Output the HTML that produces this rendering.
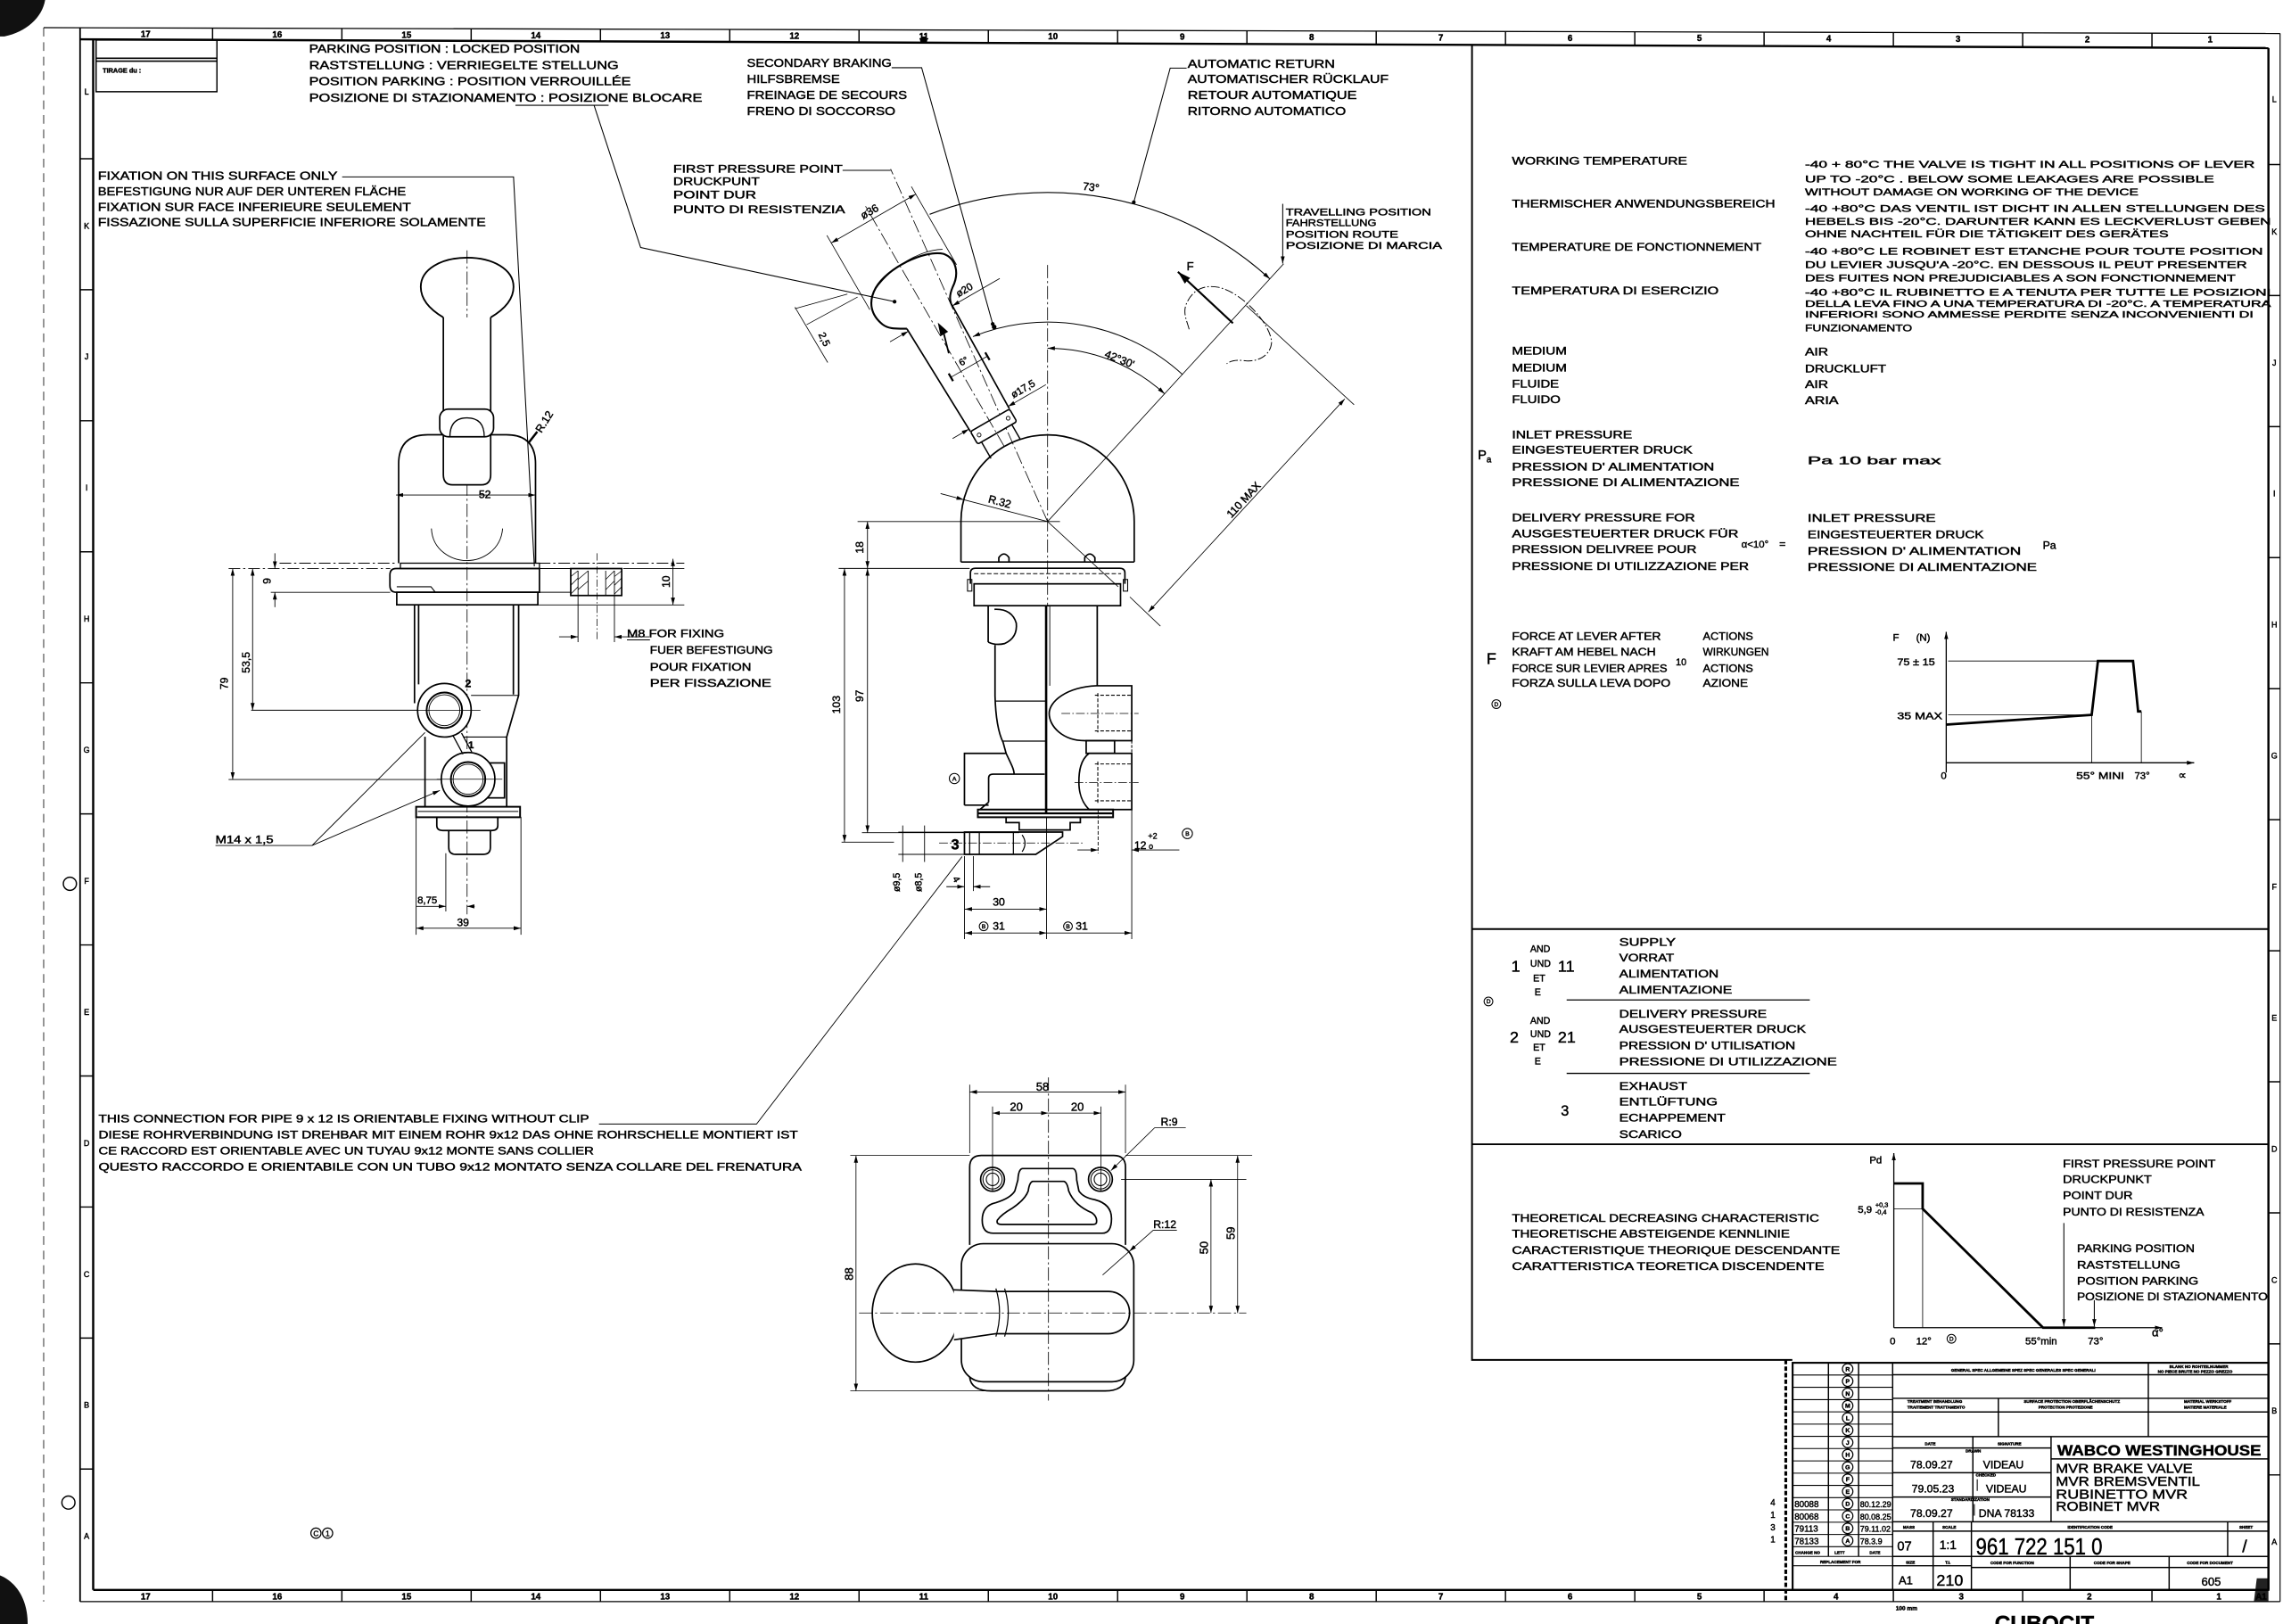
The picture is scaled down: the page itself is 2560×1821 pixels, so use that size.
<!DOCTYPE html>
<html><head><meta charset="utf-8"><style>
html,body{margin:0;padding:0;background:#fff;}
svg{display:block}
text{font-family:"Liberation Sans",Arial,sans-serif;fill:#000;stroke:#000;stroke-width:0.28px}
</style></head><body>
<svg xmlns="http://www.w3.org/2000/svg" width="2560" height="1821" viewBox="0 0 1568 1115.4" preserveAspectRatio="none">
<defs>
<marker id="a" viewBox="0 0 10 10" refX="10" refY="5" markerUnits="userSpaceOnUse" markerWidth="5" markerHeight="5" orient="auto-start-reverse"><path d="M0,2.2 L10,5 L0,7.8 Z" fill="#000" stroke="none"/></marker>
<marker id="b" viewBox="0 0 10 10" refX="10" refY="5" markerUnits="userSpaceOnUse" markerWidth="9" markerHeight="9" orient="auto-start-reverse"><path d="M0,2 L10,5 L0,8 Z" fill="#000" stroke="none"/></marker>
</defs>
<rect width="1568" height="1115.4" fill="#fff"/>

<!-- scan blobs -->
<path d="M0,0 L31,0 C29,12 18,22 3,25 L0,25 Z" fill="#111"/>
<path d="M0,1082 C10,1086 19,1097 19,1115.4 L0,1115.4 Z" fill="#111"/>
<path d="M1550,1084 L1558,1084 L1558,1100 L1548,1100 Z" fill="#222"/>

<!-- FRAME -->
<g fill="none" stroke="#000">
<path d="M30,19 L1566,23" stroke-width="0.8"/>
<path d="M55,27 L1558,33" stroke-width="1.5"/>
<path d="M55,19 L55,1100" stroke-width="1.1"/>
<path d="M64,27 L64,1092" stroke-width="1.5"/>
<path d="M30,19 L30,1100" stroke-width="0.5" stroke-dasharray="6 4"/>
<path d="M1558,33 L1558,1092" stroke-width="1.5"/>
<path d="M1566,23 L1566,1100" stroke-width="0.7"/>
<path d="M64,1092 L1558,1092" stroke-width="1.5"/>
<path d="M55,1100 L1566,1100" stroke-width="0.8"/>
<g stroke-width="0.9">
<path d="M146,19.3V27.4M234.8,19.5V27.7M323.6,19.8V28.1M412.4,20V28.4M501.2,20.2V28.8M590,20.5V29.1M678.8,20.7V29.5M767.6,20.9V29.8M856.4,21.2V30.2M945.2,21.4V30.5M1034,21.6V30.9M1122.8,21.9V31.3M1211.6,22.1V31.6M1300.4,22.3V32M1389.2,22.5V32.3M1478,22.8V32.7"/>
<path d="M146,1092V1100M234.8,1092V1100M323.6,1092V1100M412.4,1092V1100M501.2,1092V1100M590,1092V1100M678.8,1092V1100M767.6,1092V1100M856.4,1092V1100M945.2,1092V1100M1034,1092V1100M1122.8,1092V1100M1211.6,1092V1100M1300.4,1092V1100M1389.2,1092V1100M1478,1092V1100"/>
<path d="M55,109H64M55,199H64M55,289H64M55,379H64M55,469H64M55,559H64M55,649H64M55,739H64M55,829H64M55,919H64M55,1009H64"/>
<path d="M1558,113H1566M1558,203H1566M1558,293H1566M1558,383H1566M1558,473H1566M1558,563H1566M1558,653H1566M1558,743H1566M1558,833H1566M1558,923H1566M1558,1013H1566"/>
</g>
<circle cx="48" cy="607" r="4.5" stroke-width="0.9"/>
<circle cx="47" cy="1032" r="4.5" stroke-width="0.9"/>
<circle cx="634.4" cy="27.5" r="2" fill="#000"/>
</g>
<g font-size="6" text-anchor="middle" font-weight="bold">
<text x="100" y="25.5">17</text><text x="190.4" y="25.8">16</text><text x="279.2" y="26">15</text><text x="368" y="26.2">14</text><text x="456.8" y="26.4">13</text><text x="545.6" y="26.7">12</text><text x="634.4" y="26.9">11</text><text x="723.2" y="27.1">10</text><text x="812" y="27.4">9</text><text x="900.8" y="27.6">8</text><text x="989.6" y="27.8">7</text><text x="1078.4" y="28.1">6</text><text x="1167.2" y="28.3">5</text><text x="1256" y="28.5">4</text><text x="1344.8" y="28.8">3</text><text x="1433.6" y="29">2</text><text x="1518" y="29.2">1</text>
<text x="100" y="1098.5">17</text><text x="190.4" y="1098.5">16</text><text x="279.2" y="1098.5">15</text><text x="368" y="1098.5">14</text><text x="456.8" y="1098.5">13</text><text x="545.6" y="1098.5">12</text><text x="634.4" y="1098.5">11</text><text x="723.2" y="1098.5">10</text><text x="812" y="1098.5">9</text><text x="900.8" y="1098.5">8</text><text x="989.6" y="1098.5">7</text><text x="1078.4" y="1098.5">6</text><text x="1167.2" y="1098.5">5</text><text x="1261" y="1098.5">4</text><text x="1347" y="1098.5">3</text><text x="1435" y="1098.5">2</text><text x="1524" y="1098.5">1</text><text x="1553" y="1098.5">A1</text>
</g>
<g font-size="5.5" text-anchor="middle">
<text x="59.5" y="65">L</text><text x="59.5" y="157">K</text><text x="59.5" y="247">J</text><text x="59.5" y="337">I</text><text x="59.5" y="427">H</text><text x="59.5" y="517">G</text><text x="59.5" y="607">F</text><text x="59.5" y="697">E</text><text x="59.5" y="787">D</text><text x="59.5" y="877">C</text><text x="59.5" y="967">B</text><text x="59.5" y="1057">A</text>
<text x="1562" y="70">L</text><text x="1562" y="161">K</text><text x="1562" y="251">J</text><text x="1562" y="341">I</text><text x="1562" y="431">H</text><text x="1562" y="521">G</text><text x="1562" y="611">F</text><text x="1562" y="701">E</text><text x="1562" y="791">D</text><text x="1562" y="881">C</text><text x="1562" y="971">B</text><text x="1562" y="1061">A</text>
</g>

<!-- TIRAGE box -->
<g fill="none" stroke="#000" stroke-width="0.9">
<rect x="66" y="27.5" width="83" height="35.5"/>
<path d="M66,40H149M66,42H149" stroke-width="1"/>
</g>
<text x="70.5" y="50" font-size="4.5" font-weight="bold">TIRAGE du :</text>

<!-- TEXT BLOCKS TOP -->
<g font-size="8">
<text x="212.3" y="36" textLength="186" lengthAdjust="spacingAndGlyphs">PARKING POSITION : LOCKED POSITION</text>
<text x="212.3" y="47.5" textLength="212.6" lengthAdjust="spacingAndGlyphs">RASTSTELLUNG : VERRIEGELTE STELLUNG</text>
<text x="212.3" y="58.5" textLength="221" lengthAdjust="spacingAndGlyphs">POSITION PARKING : POSITION VERROUILLÉE</text>
<text x="212.3" y="69.8" textLength="270" lengthAdjust="spacingAndGlyphs">POSIZIONE DI STAZIONAMENTO : POSIZIONE BLOCARE</text>
<text x="513" y="46" textLength="99.4" lengthAdjust="spacingAndGlyphs">SECONDARY BRAKING</text>
<text x="513" y="57" textLength="63.8" lengthAdjust="spacingAndGlyphs">HILFSBREMSE</text>
<text x="513" y="68" textLength="110" lengthAdjust="spacingAndGlyphs">FREINAGE DE SECOURS</text>
<text x="513" y="79" textLength="102" lengthAdjust="spacingAndGlyphs">FRENO DI SOCCORSO</text>
<text x="815.7" y="46.5" textLength="101.2" lengthAdjust="spacingAndGlyphs">AUTOMATIC RETURN</text>
<text x="815.7" y="57" textLength="138" lengthAdjust="spacingAndGlyphs">AUTOMATISCHER RÜCKLAUF</text>
<text x="815.7" y="68" textLength="116.2" lengthAdjust="spacingAndGlyphs">RETOUR AUTOMATIQUE</text>
<text x="815.7" y="79" textLength="108.7" lengthAdjust="spacingAndGlyphs">RITORNO AUTOMATICO</text>
<text x="67.2" y="123.5" textLength="164.6" lengthAdjust="spacingAndGlyphs">FIXATION ON THIS SURFACE ONLY</text>
<text x="67.2" y="134" textLength="211.6" lengthAdjust="spacingAndGlyphs">BEFESTIGUNG NUR AUF DER UNTEREN FLÄCHE</text>
<text x="67.2" y="144.8" textLength="215" lengthAdjust="spacingAndGlyphs">FIXATION SUR FACE INFERIEURE SEULEMENT</text>
<text x="67.2" y="155.3" textLength="266.4" lengthAdjust="spacingAndGlyphs">FISSAZIONE SULLA SUPERFICIE INFERIORE SOLAMENTE</text>
</g>
<g font-size="7.5">
<text x="462.4" y="118.4" textLength="116.3" lengthAdjust="spacingAndGlyphs">FIRST PRESSURE POINT</text>
<text x="462.4" y="127" textLength="59.3" lengthAdjust="spacingAndGlyphs">DRUCKPUNT</text>
<text x="462.4" y="136.4" textLength="57" lengthAdjust="spacingAndGlyphs">POINT DUR</text>
<text x="462.4" y="146.3" textLength="118" lengthAdjust="spacingAndGlyphs">PUNTO DI RESISTENZIA</text>
</g>
<g font-size="7">
<text x="883.1" y="148" textLength="99.8" lengthAdjust="spacingAndGlyphs">TRAVELLING POSITION</text>
<text x="883.1" y="155.3" textLength="62.3" lengthAdjust="spacingAndGlyphs">FAHRSTELLUNG</text>
<text x="883.1" y="163.2" textLength="77.3" lengthAdjust="spacingAndGlyphs">POSITION ROUTE</text>
<text x="883.1" y="171" textLength="107.3" lengthAdjust="spacingAndGlyphs">POSIZIONE DI MARCIA</text>
</g>

<!-- leaders top -->
<g fill="none" stroke="#000" stroke-width="0.65">
<path d="M354,72.3H418"/>
<path d="M408,72.3 L440,170 L614.4,207.2"/>
<path d="M612.4,46.5 H633 L681.8,222.5"/>
<path d="M815,46.8 H803.7 L778.7,138.9"/>
<path d="M235,121.5 H352.7 L367,389"/>
<path d="M881,140 V181" marker-end="url(#a)"/>
<path d="M578.7,117 H611.7"/>
</g>
<g fill="#000"><circle cx="614.4" cy="207.2" r="1.3"/><circle cx="681.8" cy="222.5" r="1.3"/><circle cx="778.7" cy="138.9" r="1.3"/></g>

<!-- ================= LEFT VIEW ================= -->
<g fill="none" stroke="#000" stroke-width="1.05">
<path d="M320.8,172 V628" stroke-width="0.5" stroke-dasharray="9 2 1.5 2"/>
<path d="M273.8,386.8 L273.8,318.6 Q273.8,298.6 293.8,298.6 L347.8,298.6 Q367.8,298.6 367.8,318.6 L367.8,386.8"/>
<path d="M296.3,363 C297,378 310,385 320.8,385 C331,385 344,378 345.2,363" stroke-width="0.55"/>
<path d="M304.5,218 C296,213 289,206 289,197 C289,185 303,177 320.8,177 C338.6,177 352.7,185 352.7,197 C352.7,206 345.5,213 337,218" stroke-width="1.15"/>
<path d="M304.5,218 L304.5,326 Q304.5,333 311,333 L330.5,333 Q337,333 337,326 L337,218" fill="#fff"/>
<rect x="302" y="281" width="37" height="19" rx="6" fill="#fff"/>
<path d="M309,300 Q309,287 320.8,287 Q332.6,287 332.6,300" stroke-width="0.8"/>
<rect x="275" y="386.8" width="95.5" height="3.7" stroke-width="0.8"/>
<path d="M272,390.5 L370.5,390.5 L370.5,406.8 L272,406.8 Q267.8,406.8 267.8,402 L267.8,395 Q267.8,390.5 272,390.5 Z"/>
<path d="M272.5,403 L296,403 L299,406.8" stroke-width="0.65"/>
<rect x="272.5" y="406.8" width="96.9" height="8.6"/>
<path d="M370.5,390.5 H392 M370.5,406.8 H392" stroke-width="0.65"/>
<rect x="392" y="390.5" width="35" height="18.5"/>
<path d="M397,392 V409 M404,392 V409 M416,392 V409 M422,392 V409" stroke-width="0.55"/>
<path d="M392,396 L397,392 M392,402 L397,397 M392,408 L397,403 M422,396 L427,392 M422,402 L427,397 M422,408 L427,403 M397,398 L404,392 M397,405 L404,399 M416,398 L422,392 M416,405 L422,399" stroke-width="0.45"/>
<path d="M410,380 V440" stroke-width="0.45" stroke-dasharray="5 1.5 1 1.5"/>
<path d="M284.7,415.4 L284.7,483 M287.5,415.4 L287.5,470 M291.9,506 L291.9,554 M356.2,415.4 L356.2,477.6 L348,506.2 L348,554 M352.6,415.4 L352.6,477"/>
<path d="M323.5,477.6 H356.2 M318,506.2 H348" stroke-width="0.65"/>
<rect x="328" y="524" width="18.5" height="24" fill="#fff"/>
<circle cx="305.2" cy="487.8" r="18.4" fill="#fff"/>
<circle cx="305.2" cy="487.8" r="12.2" stroke-width="1.2"/>
<circle cx="305.2" cy="487.8" r="10.6" stroke-width="0.55"/>
<circle cx="321.5" cy="535.2" r="18.4" fill="#fff"/>
<circle cx="321.5" cy="535.2" r="11.8" stroke-width="1.2"/>
<circle cx="321.5" cy="535.2" r="10.3" stroke-width="0.55"/>
<path d="M311,505 L318,518 M317,503.5 L324,516.5" stroke-width="0.8"/>
<path d="M286,487.8 H330 M300,535.2 H345" stroke-width="0.45"/>
<rect x="285.8" y="554.1" width="71.4" height="7.2" stroke-width="1.2"/>
<path d="M287,557.3 H356" stroke-width="0.65"/>
<path d="M300,561.3 L300,567 Q300,570.4 304,570.4 L338,570.4 Q341.9,570.4 341.9,567 L341.9,561.3"/>
<path d="M308.2,570.4 L308.2,582 Q308.2,586.8 313,586.8 L332,586.8 Q336.8,586.8 336.8,582 L336.8,570.4"/>
<g stroke-width="0.55">
<path d="M272,340 H367.8" marker-start="url(#a)" marker-end="url(#a)"/>
<path d="M157,390.5 H268 M192,386.8 H273 M370,386.8 H470" stroke-dasharray="8 2 1.5 2"/>
<path d="M186,406.8 H268 M172.5,487.8 H287 M157,535.4 H303 M428,390.5 H470 M428,415.5 H470 M370,415.5 H428"/>
<path d="M159.8,390.5 V535.4" marker-start="url(#a)" marker-end="url(#a)"/>
<path d="M173.5,390.5 V487.8" marker-start="url(#a)" marker-end="url(#a)"/>
<path d="M188.8,380 V390.5" marker-end="url(#a)"/><path d="M188.8,417 V406.8" marker-end="url(#a)"/>
<path d="M462.2,383.8 V415.5" marker-start="url(#a)" marker-end="url(#a)"/>
<path d="M397,409 V441 M422,409 V441"/>
<path d="M384,437.4 H397" marker-end="url(#a)"/><path d="M446,437.4 H422" marker-end="url(#a)"/>
<path d="M430.6,439.5 H446.4" stroke-width="0.65"/>
<path d="M285.8,561 V642 M357.8,561 V642 M306.2,586 V626"/>
<path d="M286,622.5 H306.2" marker-end="url(#a)"/><path d="M326,622.5 H320.8" marker-end="url(#a)"/>
<path d="M285.8,637.5 H357.8" marker-start="url(#a)" marker-end="url(#a)"/>
<path d="M148,580.7 H214.3 L291.9,503.1 M214.3,580.7 L302.1,542.9" marker-end="url(#a)"/>
<path d="M362.8,304.4 L369,296.5" stroke-width="1.5"/>
</g>
</g>
<g font-size="7.5">
<text x="333" y="342" text-anchor="middle">52</text>
<text transform="translate(156.5,469.4) rotate(-90)" text-anchor="middle">79</text>
<text transform="translate(171.5,455) rotate(-90)" text-anchor="middle">53,5</text>
<text transform="translate(186,399) rotate(-90)" text-anchor="middle">9</text>
<text transform="translate(460,399.5) rotate(-90)" text-anchor="middle">10</text>
<text x="293.5" y="620.5" text-anchor="middle" font-size="7">8,75</text>
<text x="318" y="636" text-anchor="middle">39</text>
<text x="321.5" y="472" text-anchor="middle" font-weight="bold">2</text>
<text x="323.5" y="514" text-anchor="middle" font-weight="bold" font-size="7">1</text>
<text transform="translate(376,291) rotate(-58)" text-anchor="middle">R.12</text>
<text x="148" y="579" textLength="39.8" lengthAdjust="spacingAndGlyphs">M14 x 1,5</text>
</g>
<g font-size="7.5">
<text x="430.6" y="437.5" textLength="66.8" lengthAdjust="spacingAndGlyphs">M8 FOR FIXING</text>
<text x="446.4" y="449" textLength="84.4" lengthAdjust="spacingAndGlyphs">FUER BEFESTIGUNG</text>
<text x="446.4" y="460.5" textLength="69.6" lengthAdjust="spacingAndGlyphs">POUR FIXATION</text>
<text x="446.4" y="471.7" textLength="83.3" lengthAdjust="spacingAndGlyphs">PER FISSAZIONE</text>
</g>

<!-- ================= MIDDLE VIEW ================= -->
<g fill="none" stroke="#000" stroke-width="1.05">
<g stroke-width="0.5">
<path d="M719.5,182 V416" stroke-dasharray="9 2 1.5 2"/>
<path d="M719.5,358.2 L881.6,181.2"/>
<path d="M719.5,358.2 L611.7,116.1" stroke-dasharray="9 2 1.5 2"/>
<path d="M719.5,358.2 L768,403"/>
<path d="M589,358.2 H728"/>
<path d="M638.5,147.2 A226,226 0 0 1 872.2,191.6" stroke-width="0.7" marker-end="url(#a)"/>
<path d="M668.2,231.2 A137,137 0 0 1 812.1,257.2" stroke-width="0.6" marker-start="url(#a)"/>
<path d="M719.5,239.2 A119,119 0 0 1 799.9,270.5" stroke-width="0.6" marker-start="url(#a)" marker-end="url(#a)"/>
<path d="M788.7,420.3 L923.6,274" marker-start="url(#a)" marker-end="url(#a)"/>
<path d="M856,210 L930,278 M776,410 L797,430"/>
<path d="M646,339 L661.9,343.2" marker-end="url(#a)"/>
<path d="M661.9,343.2 L719.5,358.2"/>
<path d="M546,212 L582,202 M554,223 L589,204 M546,211 L568.5,249"/>
</g>
<circle cx="682.8" cy="224.6" r="1.1" fill="#000"/>
<path d="M660,386 L660,358.2 A59.5,59.5 0 0 1 779,358.2 L779,386"/>
<path d="M686,386 L686,383 Q689.5,378 693,383 L693,386 M745,386 L745,383 Q748.5,378 752,383 L752,386"/>
<path d="M660,386 H779"/>
<path d="M666.5,401 L666.5,393.5 Q666.5,390.3 670,390.3 L769,390.3 Q772.6,390.3 772.6,393.5 L772.6,401"/>
<path d="M669,394 H770" stroke-width="0.55" stroke-dasharray="3 1.5"/>
<rect x="664.5" y="398" width="3" height="8" stroke-width="0.65"/>
<rect x="771.5" y="398" width="3" height="8" stroke-width="0.65"/>
<rect x="669" y="401" width="100.6" height="15"/>
<path d="M678.7,416 L678.7,441 M683,418.5 Q695,418 698,428 Q699,438 690,442 Q684,443.5 678.7,441"/>
<path d="M683.4,443 L683.4,478 Q684,500 689,510 L691,517.4"/>
<path d="M753.6,416 L753.6,471"/>
<path d="M718.5,416 L718.5,558" stroke-width="1.6"/>
<path d="M721,416 L721,471" stroke-width="0.55"/>
<path d="M683.4,481.5 H718.5 M689,509 H718.5" stroke-width="0.75"/>
<path d="M777.3,471 L753,471 C732,472 720.6,482 720.6,490 C720.6,499 730,508.7 745,508.7 L777.3,508.7 Z" fill="#fff"/>
<path d="M752,477.5 H777 M752,502 H777 M754,476 V503" stroke-width="0.65" stroke-dasharray="2.5 1.2"/>
<path d="M729,490 H782" stroke-width="0.5" stroke-dasharray="6 1.5 1 1.5"/>
<rect x="746" y="508.7" width="19.5" height="8.7"/>
<path d="M777.3,508.7 V517.4" stroke-dasharray="2 1" stroke-width="0.65"/>
<path d="M777.3,517.4 L748,517.4 C742,522 741,530 741,537 C741,545 743,551 748,556 L777.3,556 Z" fill="#fff"/>
<path d="M752,524.7 H777 M752,550 H777 M754,523 V552" stroke-width="0.65" stroke-dasharray="2.5 1.2"/>
<path d="M738,537.5 H782" stroke-width="0.5" stroke-dasharray="6 1.5 1 1.5"/>
<path d="M662.4,553 L662.4,517.4 L691,517.4 C694,524 696.5,528 696.5,531.7"/>
<path d="M679,551 L679,534.5 Q679,531.7 682,531.7 L717.5,531.7"/>
<path d="M662.4,553 H679 M679,551 L673,556"/>
<path d="M671.6,556 L764.5,556 L764.5,561.3 L671.6,561.3 Z" stroke-width="1.2"/>
<path d="M672,558.6 H764" stroke-width="1.4"/>
<path d="M691,561.3 L691,565 L700,565 L700,570 L735,570 L735,565 L742,565 L742,561.3"/>
<path d="M662.4,571.5 L729.8,571.5 L729.8,574.6 L711.4,586.8 L662.4,586.8 Z"/>
<path d="M666,571.5 V586.8 M672.6,571.5 V586.8 M696,571.5 V586.8 M702,573.5 Q706,579 702,585" stroke-width="0.75"/>
<path d="M645,579 H745" stroke-width="0.5" stroke-dasharray="6 1.5 1 1.5"/>
<path d="M754.2,556 V586" stroke-width="0.55" stroke-dasharray="2.5 1.2"/>
<g stroke-width="0.55">
<path d="M576,390.4 H666 M592,571.9 H700 M578,578.4 H614 M617,571.5 H662 M617,586.8 H662"/>
<path d="M580,390.4 V578.4" marker-start="url(#a)" marker-end="url(#a)"/>
<path d="M595.8,390.4 V571.9" marker-start="url(#a)" marker-end="url(#a)"/>
<path d="M595.8,358.2 V390.4" marker-start="url(#a)" marker-end="url(#a)"/>
<path d="M620,567 V592 M635,567 V592"/>
<path d="M662.4,588 V645 M668.5,588 V612 M718.8,561 V645 M777.3,556 V645"/>
<path d="M650,609 H662.4" marker-end="url(#a)"/><path d="M680,609 H668.5" marker-end="url(#a)"/>
<path d="M662.6,624.4 H718.8" marker-start="url(#a)" marker-end="url(#a)"/>
<path d="M662.6,640.8 H718.8" marker-start="url(#a)" marker-end="url(#a)"/>
<path d="M718.8,640.8 H777.3" marker-end="url(#a)"/>
<path d="M740,583.8 H754.2" marker-end="url(#a)"/><path d="M810,583.8 H777.3" marker-end="url(#a)"/>
<path d="M660.8,588.3 L519.6,772 L411.4,772"/>
</g>
</g>
<g font-size="7.5">
<text transform="translate(577,484) rotate(-90)" text-anchor="middle">103</text>
<text transform="translate(593,478) rotate(-90)" text-anchor="middle">97</text>
<text transform="translate(593,376) rotate(-90)" text-anchor="middle">18</text>
<text transform="translate(618,606) rotate(-90)" text-anchor="middle" font-size="6.5">ø9,5</text>
<text transform="translate(633,606) rotate(-90)" text-anchor="middle" font-size="6.5">ø8,5</text>
<text transform="translate(655,605) rotate(60)" text-anchor="middle" font-size="6.5">4</text>
<text x="686" y="622" text-anchor="middle">30</text>
<text x="686" y="638.5" text-anchor="middle">31</text>
<text x="743" y="638.5" text-anchor="middle">31</text>
<text x="656" y="583.5" font-size="10" font-weight="bold" text-anchor="middle">3</text>
<text x="779" y="583">12</text><text x="788.5" y="576" font-size="5.5">+2</text><text x="789" y="583" font-size="5.5">o</text>
<text transform="translate(749,131) rotate(8)" text-anchor="middle">73°</text>
<text transform="translate(768,249) rotate(22)" text-anchor="middle">42°30'</text>
<text transform="translate(686,347) rotate(15)" text-anchor="middle">R.32</text>
<text transform="translate(856,345) rotate(-47.3)" text-anchor="middle">110 MAX</text>
<text transform="translate(564,234) rotate(65)" text-anchor="middle" font-size="7">2,5</text>
<text x="815" y="185.5" font-size="8">F</text>
</g>
<g fill="none" stroke="#000" stroke-width="0.65">
<circle cx="675.6" cy="636.2" r="3"/><circle cx="733.5" cy="636.2" r="3"/>
<circle cx="815.5" cy="572.5" r="3.5"/><circle cx="655.5" cy="534.7" r="3.5"/>
</g>
<g font-size="4.2" text-anchor="middle">
<text x="675.6" y="637.7">B</text><text x="733.5" y="637.7">B</text><text x="815.5" y="574">B</text><text x="655.5" y="536.2">A</text>
</g>
<path d="M846.8,222 L809,186.7" stroke="#000" stroke-width="1.3" fill="none" marker-end="url(#b)"/>

<!-- lever -->
<g transform="translate(719.5 358.2) rotate(-30)" fill="none" stroke="#000">
<path d="M-12,-57 L-12,-70 M12,-58 L12,-70" stroke-width="0.9"/>
<rect x="-15" y="-80" width="31" height="10" rx="1.5" stroke-width="1" fill="#fff"/>
<circle cx="-11" cy="-75" r="1.3" stroke-width="0.55"/><circle cx="12" cy="-75" r="1.3" stroke-width="0.55"/>
<path d="M-15,-80 L-17.5,-163 M16,-80 L17.5,-163" stroke-width="1.05"/>
<path d="M-17.5,-163 C-22,-166 -28,-168 -30.5,-174 C-34,-183 -32,-192 -22,-198 C-8,-206 20,-204 30,-195 C36,-188 33,-178 24,-172 C20,-169 18,-166 17.5,-163" stroke-width="1.3"/>
<path d="M-28,-194 C-15,-204 15,-207 31,-198" stroke-width="0.55"/>
<g stroke-width="0.5">
<path d="M0,-60 V-250" stroke-dasharray="9 2 1.5 2"/>
<path d="M-33,-240 H34" marker-start="url(#a)" marker-end="url(#a)"/>
<path d="M-33,-187 V-246 M34,-184 V-246"/>
<path d="M-32,-161 H-17.5" marker-end="url(#a)"/><path d="M55,-161 H17.5" marker-end="url(#a)"/>
<path d="M-28,-82 H-15" marker-end="url(#a)"/><path d="M46,-82 H16" marker-end="url(#a)"/>
<path d="M-8,-119 H21"/>
</g>
<path d="M-8,-116 V-122 M21,-116 V-122" stroke-width="1.4"/>
<path d="M-1,-134 L3,-148" stroke-width="1.1"/>
<path d="M3,-156 L0,-147 L6,-147 Z" fill="#000" stroke="none"/>
<text x="-6" y="-243" font-size="7.5">ø36</text>
<text x="24" y="-164" font-size="7">ø20</text>
<text x="22" y="-85" font-size="7">ø17,5</text>
<text x="2" y="-122" font-size="6.5">6°</text>
</g>
<g transform="translate(719.5 358.2) rotate(42.5)" fill="none" stroke="#000" stroke-width="0.6" stroke-dasharray="6 1.5 1 1.5">
<path d="M-17.5,-163 C-22,-166 -28,-168 -30.5,-174 C-34,-183 -32,-192 -22,-198 C-8,-206 20,-204 30,-195 C36,-188 33,-178 24,-172 C20,-169 18,-166 17.5,-163"/>
</g>

<!-- ================= PLAN VIEW ================= -->
<g fill="none" stroke="#000" stroke-width="1.05">
<path d="M666,855 L666,801.6 Q666,793.6 674,793.6 L765,793.6 Q773,793.6 773,801.6 L773,855"/>
<circle cx="681.7" cy="810" r="8.2"/><circle cx="681.7" cy="810" r="6.6" stroke-width="0.65"/><circle cx="681.7" cy="810" r="4.3" stroke-width="0.65"/>
<circle cx="755.8" cy="810" r="8.2"/><circle cx="755.8" cy="810" r="6.6" stroke-width="0.65"/><circle cx="755.8" cy="810" r="4.3" stroke-width="0.65"/>
<path d="M702.2,802.6 L736.8,802.6 Q739.5,803 739.5,810.4 L741,818 Q744,822.6 752,824 Q763.4,827 763.4,836.9 Q763.4,847 757,847 L682,847 Q674.6,847 674.6,838 Q674.6,828 684,826 Q694,823 697,818 L699.1,810.4 Q699.5,803 702.2,802.6 Z"/>
<path d="M709.3,811.4 L730.7,811.4 Q733,812 734,818 Q738,828 750,833 Q754,836 753,840 Q752.5,841 750,841 L688,841 Q684,841 685,838 Q688,834 695,830 Q704,824 706.2,818 Q707,812 709.3,811.4 Z"/>
<rect x="660.3" y="854.2" width="118.4" height="94.8" rx="15" fill="#fff"/>
<path d="M666,946 Q667,955.3 681,955.3 L759,955.3 Q772,955.3 773,946"/>
<ellipse cx="628.7" cy="901.8" rx="29.6" ry="33.7" fill="#fff"/>
<path d="M655.2,885.9 L684,887 L761.3,887 A14.5,14.5 0 0 1 761.3,916 L684,916 L655.2,920.2" fill="#fff"/>
<path d="M684,885 Q689,901.5 684,918 M690,885 Q695,901.5 690,918" stroke-width="0.75"/>
<g stroke-width="0.5">
<path d="M590,901.8 H856" stroke-dasharray="9 2 1.5 2"/>
<path d="M720.1,740 V962" stroke-dasharray="9 2 1.5 2"/>
<path d="M666,750 H773" marker-start="url(#a)" marker-end="url(#a)"/>
<path d="M666,745 V792 M773,745 V792"/>
<path d="M681.7,764.5 H720.1" marker-start="url(#a)" marker-end="url(#a)"/>
<path d="M720.1,764.5 H756.2" marker-end="url(#a)"/>
<path d="M681.7,760 V818 M756.2,760 V818"/>
<path d="M587.9,793.6 V955.3" marker-start="url(#a)" marker-end="url(#a)"/>
<path d="M584,793.6 H666 M773,793.6 H860 M584,955.3 H700 M770,810 H856"/>
<path d="M831.7,810 V901.8" marker-start="url(#a)" marker-end="url(#a)"/>
<path d="M850,793.6 V901.8" marker-start="url(#a)" marker-end="url(#a)"/>
<path d="M814.4,774.6 H793 L763,804" marker-end="url(#a)"/>
<path d="M808.3,845 H792 L775.6,859.5" marker-end="url(#a)"/>
<path d="M775.6,859.5 L757.3,875.7"/>
</g>
</g>
<g font-size="8" text-anchor="middle">
<text x="716" y="749">58</text>
<text x="698" y="763">20</text><text x="740" y="763">20</text>
<text x="803" y="773" font-size="7.5">R:9</text>
<text x="800" y="843.5" font-size="7.5">R:12</text>
<text transform="translate(586,875) rotate(-90)">88</text>
<text transform="translate(829.5,857) rotate(-90)">50</text>
<text transform="translate(848,847) rotate(-90)">59</text>
</g>

<!-- bottom-left text -->
<g font-size="7.5">
<text x="67.7" y="771" textLength="336.9" lengthAdjust="spacingAndGlyphs">THIS CONNECTION FOR PIPE 9 x 12 IS ORIENTABLE FIXING WITHOUT CLIP</text>
<text x="67.7" y="782" textLength="480.3" lengthAdjust="spacingAndGlyphs">DIESE ROHRVERBINDUNG IST DREHBAR MIT EINEM ROHR 9x12 DAS OHNE ROHRSCHELLE MONTIERT IST</text>
<text x="67.7" y="793" textLength="340.1" lengthAdjust="spacingAndGlyphs">CE RACCORD EST ORIENTABLE AVEC UN TUYAU 9x12 MONTE SANS COLLIER</text>
<text x="67.7" y="804" textLength="482.9" lengthAdjust="spacingAndGlyphs">QUESTO RACCORDO E ORIENTABILE CON UN TUBO 9x12 MONTATO SENZA COLLARE DEL FRENATURA</text>
</g>
<g fill="none" stroke="#000" stroke-width="0.75"><circle cx="217" cy="1053" r="3.5"/><circle cx="225" cy="1053" r="3.5"/></g>
<text x="217" y="1055" font-size="5" text-anchor="middle">C</text><text x="225" y="1055" font-size="5" text-anchor="middle">1</text>

<!-- ================= RIGHT PANEL ================= -->
<g fill="none" stroke="#000" stroke-width="1.2">
<path d="M1011,31 V934 H1231"/>
<path d="M1011,638.1 H1558 M1011,785.9 H1558"/>
</g>
<g font-size="7.5">
<text x="1038.4" y="113" textLength="120.4" lengthAdjust="spacingAndGlyphs">WORKING TEMPERATURE</text>
<text x="1038.4" y="142.5" textLength="180.8" lengthAdjust="spacingAndGlyphs">THERMISCHER ANWENDUNGSBEREICH</text>
<text x="1038.4" y="172" textLength="171.4" lengthAdjust="spacingAndGlyphs">TEMPERATURE DE FONCTIONNEMENT</text>
<text x="1038.4" y="202" textLength="142" lengthAdjust="spacingAndGlyphs">TEMPERATURA DI ESERCIZIO</text>
</g>
<g font-size="7">
<text x="1239.7" y="115.3" textLength="309" lengthAdjust="spacingAndGlyphs">-40 + 80°C  THE VALVE IS TIGHT IN ALL POSITIONS OF LEVER</text>
<text x="1239.7" y="125.3" textLength="281" lengthAdjust="spacingAndGlyphs">UP TO -20°C . BELOW SOME LEAKAGES ARE POSSIBLE</text>
<text x="1239.7" y="134" textLength="229" lengthAdjust="spacingAndGlyphs" font-size="6.5">WITHOUT DAMAGE ON WORKING OF THE DEVICE</text>
<text x="1239.7" y="145.5" textLength="316" lengthAdjust="spacingAndGlyphs">-40 +80°C DAS VENTIL IST DICHT IN ALLEN STELLUNGEN DES</text>
<text x="1239.7" y="154.3" textLength="320" lengthAdjust="spacingAndGlyphs">HEBELS BIS -20°C. DARUNTER KANN ES LECKVERLUST GEBEN</text>
<text x="1239.7" y="163" textLength="249.7" lengthAdjust="spacingAndGlyphs">OHNE NACHTEIL FÜR DIE TÄTIGKEIT DES GERÄTES</text>
<text x="1239.7" y="175" textLength="314.5" lengthAdjust="spacingAndGlyphs">-40 +80°C LE ROBINET EST ETANCHE POUR TOUTE POSITION</text>
<text x="1239.7" y="184" textLength="303.6" lengthAdjust="spacingAndGlyphs">DU LEVIER JUSQU'A -20°C. EN DESSOUS IL PEUT PRESENTER</text>
<text x="1239.7" y="193.2" textLength="295.7" lengthAdjust="spacingAndGlyphs">DES FUITES NON PREJUDICIABLES A SON FONCTIONNEMENT</text>
<text x="1239.7" y="203" textLength="320" lengthAdjust="spacingAndGlyphs">-40 +80°C IL RUBINETTO E A TENUTA PER TUTTE LE POSIZIONI</text>
<text x="1239.7" y="210.7" textLength="320" lengthAdjust="spacingAndGlyphs" font-size="6.3">DELLA LEVA FINO A UNA TEMPERATURA DI -20°C. A TEMPERATURA</text>
<text x="1239.7" y="218" textLength="308" lengthAdjust="spacingAndGlyphs" font-size="6.3">INFERIORI SONO AMMESSE PERDITE SENZA INCONVENIENTI DI</text>
<text x="1239.7" y="227.5" textLength="73.6" lengthAdjust="spacingAndGlyphs">FUNZIONAMENTO</text>
</g>
<g font-size="7.5">
<text x="1038.4" y="243.5" textLength="37.7" lengthAdjust="spacingAndGlyphs">MEDIUM</text>
<text x="1038.4" y="255" textLength="37.7" lengthAdjust="spacingAndGlyphs">MEDIUM</text>
<text x="1038.4" y="266" textLength="32.3" lengthAdjust="spacingAndGlyphs">FLUIDE</text>
<text x="1038.4" y="276.8" textLength="33.4" lengthAdjust="spacingAndGlyphs">FLUIDO</text>
<text x="1239.7" y="244" textLength="16" lengthAdjust="spacingAndGlyphs">AIR</text>
<text x="1239.7" y="255.8" textLength="55.7" lengthAdjust="spacingAndGlyphs">DRUCKLUFT</text>
<text x="1239.7" y="266.4" textLength="16" lengthAdjust="spacingAndGlyphs">AIR</text>
<text x="1239.7" y="277.6" textLength="23" lengthAdjust="spacingAndGlyphs">ARIA</text>
<text x="1038.4" y="301" textLength="82.6" lengthAdjust="spacingAndGlyphs">INLET PRESSURE</text>
<text x="1038.4" y="311.5" textLength="124" lengthAdjust="spacingAndGlyphs">EINGESTEUERTER DRUCK</text>
<text x="1038.4" y="323" textLength="139" lengthAdjust="spacingAndGlyphs">PRESSION D' ALIMENTATION</text>
<text x="1038.4" y="333.7" textLength="156.3" lengthAdjust="spacingAndGlyphs">PRESSIONE DI ALIMENTAZIONE</text>
<text x="1241.5" y="318.7" textLength="91.6" lengthAdjust="spacingAndGlyphs">Pa    10 bar  max</text>
<text x="1038.4" y="358" textLength="125.8" lengthAdjust="spacingAndGlyphs">DELIVERY PRESSURE FOR</text>
<text x="1038.4" y="369" textLength="155.6" lengthAdjust="spacingAndGlyphs">AUSGESTEUERTER DRUCK FÜR</text>
<text x="1038.4" y="379.7" textLength="126.8" lengthAdjust="spacingAndGlyphs">PRESSION DELIVREE POUR</text>
<text x="1038.4" y="391.4" textLength="162.8" lengthAdjust="spacingAndGlyphs">PRESSIONE DI UTILIZZAZIONE PER</text>
<text x="1196" y="376" font-size="7">α&lt;10°</text><text x="1222" y="376">=</text>
<text x="1241.5" y="358.4" textLength="88" lengthAdjust="spacingAndGlyphs">INLET PRESSURE</text>
<text x="1241.5" y="369.6" textLength="121" lengthAdjust="spacingAndGlyphs">EINGESTEUERTER DRUCK</text>
<text x="1241.5" y="381" textLength="146.6" lengthAdjust="spacingAndGlyphs">PRESSION D' ALIMENTATION</text>
<text x="1241.5" y="392" textLength="157.4" lengthAdjust="spacingAndGlyphs">PRESSIONE DI ALIMENTAZIONE</text>
<text x="1403" y="377">Pa</text>
</g>
<text x="1015" y="315.5" font-size="9">P<tspan font-size="6" dy="2">a</tspan></text>

<!-- F block -->
<text x="1021" y="456" font-size="11">F</text>
<g font-size="7.5">
<text x="1038.4" y="439.6" textLength="102.4" lengthAdjust="spacingAndGlyphs">FORCE AT LEVER AFTER</text>
<text x="1038.4" y="450.3" textLength="98.8" lengthAdjust="spacingAndGlyphs">KRAFT AM HEBEL NACH</text>
<text x="1038.4" y="461.4" textLength="106.7" lengthAdjust="spacingAndGlyphs">FORCE SUR LEVIER APRES</text>
<text x="1038.4" y="471.5" textLength="108.9" lengthAdjust="spacingAndGlyphs">FORZA SULLA LEVA DOPO</text>
<text x="1169.6" y="439.6" textLength="34.5" lengthAdjust="spacingAndGlyphs">ACTIONS</text>
<text x="1169.6" y="450.3" textLength="45.3" lengthAdjust="spacingAndGlyphs">WIRKUNGEN</text>
<text x="1169.6" y="461.4" textLength="34.5" lengthAdjust="spacingAndGlyphs">ACTIONS</text>
<text x="1169.6" y="471.5" textLength="30.9" lengthAdjust="spacingAndGlyphs">AZIONE</text>
</g>
<text x="1151" y="457" font-size="6.5">10</text>
<g fill="none" stroke="#000" stroke-width="0.65">
<circle cx="1027.7" cy="483.6" r="3"/><circle cx="1022.3" cy="687.8" r="3"/><circle cx="1340.3" cy="919.5" r="3"/>
</g>
<g font-size="4" text-anchor="middle"><text x="1027.7" y="485">D</text><text x="1022.3" y="689.2">D</text><text x="1340.3" y="921">D</text></g>

<!-- F chart -->
<g fill="none" stroke="#000">
<path d="M1336.7,530.6 V434" stroke-width="0.8" marker-end="url(#a)"/>
<path d="M1336.7,523.9 H1507" stroke-width="0.8" marker-end="url(#a)"/>
<path d="M1338,454 H1441 M1338,491 H1437 M1436.6,491 V524 M1470.7,488.6 V524" stroke-width="0.5"/>
<path d="M1336.7,497.7 L1436.6,491 L1440.9,454 L1465,454 L1468.5,488.6 L1470.7,488.6" stroke-width="1.7"/>
</g>
<g font-size="7">
<text x="1300" y="440">F</text><text x="1316" y="440">(N)</text>
<text x="1303" y="457" textLength="26" lengthAdjust="spacingAndGlyphs">75 ± 15</text>
<text x="1303" y="494" textLength="31" lengthAdjust="spacingAndGlyphs">35 MAX</text>
<text x="1333" y="535">0</text>
<text x="1426" y="535" textLength="33" lengthAdjust="spacingAndGlyphs">55° MINI</text>
<text x="1466" y="535">73°</text>
<text x="1496" y="535" font-size="8">∝</text>
</g>

<!-- ports legend -->
<g font-size="11"><text x="1038" y="667.5">1</text><text x="1070" y="667.5">11</text><text x="1037" y="716">2</text><text x="1070" y="716">21</text><text x="1072" y="766.4" font-size="10">3</text></g>
<g font-size="6.5">
<text x="1051" y="654">AND</text><text x="1051" y="664">UND</text><text x="1053" y="674">ET</text><text x="1054" y="683.5">E</text>
<text x="1051" y="703.3">AND</text><text x="1051" y="712.3">UND</text><text x="1053" y="721.7">ET</text><text x="1054" y="731.1">E</text>
</g>
<g font-size="7.5">
<text x="1112.1" y="649.5" textLength="38.8" lengthAdjust="spacingAndGlyphs">SUPPLY</text>
<text x="1112.1" y="660.2" textLength="37.7" lengthAdjust="spacingAndGlyphs">VORRAT</text>
<text x="1112.1" y="671.3" textLength="68.3" lengthAdjust="spacingAndGlyphs">ALIMENTATION</text>
<text x="1112.1" y="682.4" textLength="77.6" lengthAdjust="spacingAndGlyphs">ALIMENTAZIONE</text>
<text x="1112.1" y="698.9" textLength="101.3" lengthAdjust="spacingAndGlyphs">DELIVERY PRESSURE</text>
<text x="1112.1" y="709.3" textLength="128.3" lengthAdjust="spacingAndGlyphs">AUSGESTEUERTER DRUCK</text>
<text x="1112.1" y="720.7" textLength="121" lengthAdjust="spacingAndGlyphs">PRESSION D' UTILISATION</text>
<text x="1112.1" y="731.8" textLength="149.5" lengthAdjust="spacingAndGlyphs">PRESSIONE DI UTILIZZAZIONE</text>
<text x="1112.1" y="748.6" textLength="46.7" lengthAdjust="spacingAndGlyphs">EXHAUST</text>
<text x="1112.1" y="759.3" textLength="67.6" lengthAdjust="spacingAndGlyphs">ENTLÜFTUNG</text>
<text x="1112.1" y="770.4" textLength="73" lengthAdjust="spacingAndGlyphs">ECHAPPEMENT</text>
<text x="1112.1" y="781.5" textLength="43" lengthAdjust="spacingAndGlyphs">SCARICO</text>
</g>
<path d="M1076,686.8 H1243 M1076,737.2 H1243" stroke="#000" stroke-width="0.8"/>

<!-- theoretical block -->
<g font-size="7.5">
<text x="1038.4" y="839.3" textLength="211" lengthAdjust="spacingAndGlyphs">THEORETICAL DECREASING CHARACTERISTIC</text>
<text x="1038.4" y="850" textLength="190.8" lengthAdjust="spacingAndGlyphs">THEORETISCHE ABSTEIGENDE KENNLINIE</text>
<text x="1038.4" y="861.1" textLength="225.3" lengthAdjust="spacingAndGlyphs">CARACTERISTIQUE THEORIQUE DESCENDANTE</text>
<text x="1038.4" y="872.2" textLength="214.5" lengthAdjust="spacingAndGlyphs">CARATTERISTICA TEORETICA DISCENDENTE</text>
<text x="1416.8" y="801.7" textLength="104.9" lengthAdjust="spacingAndGlyphs">FIRST PRESSURE POINT</text>
<text x="1416.8" y="812.4" textLength="61" lengthAdjust="spacingAndGlyphs">DRUCKPUNKT</text>
<text x="1416.8" y="823.5" textLength="48" lengthAdjust="spacingAndGlyphs">POINT DUR</text>
<text x="1416.8" y="834.9" textLength="97" lengthAdjust="spacingAndGlyphs">PUNTO DI RESISTENZA</text>
<text x="1426.5" y="860.1" textLength="80.8" lengthAdjust="spacingAndGlyphs">PARKING POSITION</text>
<text x="1426.5" y="871.2" textLength="71" lengthAdjust="spacingAndGlyphs">RASTSTELLUNG</text>
<text x="1426.5" y="882.3" textLength="83.4" lengthAdjust="spacingAndGlyphs">POSITION PARKING</text>
<text x="1426.5" y="893" textLength="131" lengthAdjust="spacingAndGlyphs">POSIZIONE DI STAZIONAMENTO</text>
</g>
<!-- Pd chart -->
<g fill="none" stroke="#000">
<path d="M1300.7,911.9 V792" stroke-width="0.8" marker-end="url(#a)"/>
<path d="M1300.7,911.9 H1485" stroke-width="0.8" marker-end="url(#a)"/>
<path d="M1300.7,830.2 H1320.5 M1320.5,812.8 V911.9" stroke-width="0.5"/>
<path d="M1300.7,812.8 L1320.5,812.8 L1320.5,830.2 L1403.2,911.9 L1439,911.9" stroke-width="1.7"/>
<path d="M1417.5,840 V911" stroke-width="0.65" marker-end="url(#a)"/>
<path d="M1438.4,893 V911" stroke-width="0.65" marker-end="url(#a)"/>
</g>
<g font-size="7">
<text x="1284" y="799">Pd</text>
<text x="1276" y="833">5,9</text><text x="1288" y="829" font-size="4.5">+0,3</text><text x="1288" y="834" font-size="4.5">-0,4</text>
<text x="1298" y="923.3">0</text>
<text x="1316" y="923.3">12°</text>
<text x="1391" y="923.3">55°min</text>
<text x="1434" y="923.3">73°</text>
<text x="1478" y="918" font-size="8">α°</text>
</g>

<!-- ================= TITLE BLOCK ================= -->
<g fill="none" stroke="#000" stroke-width="0.9">
<path d="M1226.5,934 V1100" stroke-width="1.9" stroke-dasharray="3 1.5"/>
<rect x="1231.2" y="936" width="326.8" height="156" stroke-width="1.3"/>
<path d="M1255.8,936 V1069 M1276.5,936 V1069 M1299.9,936 V1092"/>
<path d="M1231.2,944.4H1299.9M1231.2,952.8H1299.9M1231.2,961.3H1299.9M1231.2,969.7H1299.9M1231.2,978.1H1299.9M1231.2,986.5H1299.9M1231.2,994.9H1299.9M1231.2,1003.4H1299.9M1231.2,1011.8H1299.9M1231.2,1020.2H1299.9M1231.2,1028.6H1299.9M1231.2,1037H1299.9M1231.2,1045.5H1299.9M1231.2,1053.9H1299.9M1231.2,1062.3H1299.9M1231.2,1069H1299.9M1231.2,1075.4H1299.9" stroke-width="0.65"/>
<path d="M1269,936 V1062" stroke-width="1.3"/>
<path d="M1299.9,944.2 H1558 M1299.9,960.4 H1558 M1299.9,969.8 H1558 M1299.9,986.7 H1558 M1475.5,936 V986.7 M1372.5,960.4 V986.7"/>
<path d="M1299.9,994.5 H1408.7 M1299.9,1011.5 H1408.7 M1299.9,1028.2 H1408.7 M1355,986.7 V1045.2 M1408.7,986.7 V1045.2 M1408.7,1002 H1558"/>
<path d="M1299.9,1045.2 H1558 M1299.9,1051.6 H1558 M1327.7,1045.2 V1092 M1354,1045.2 V1092 M1530,1045.2 V1069 M1299.9,1069 H1558 M1299.9,1075.4 H1354 M1354,1076.6 H1558 M1421.8,1069 V1092 M1489.8,1069 V1092"/>
</g>
<g fill="#fff" stroke="#000" stroke-width="0.75">
<circle cx="1269" cy="940.2" r="3.6"/><circle cx="1269" cy="948.6" r="3.6"/><circle cx="1269" cy="957" r="3.6"/><circle cx="1269" cy="965.5" r="3.6"/><circle cx="1269" cy="973.9" r="3.6"/><circle cx="1269" cy="982.3" r="3.6"/><circle cx="1269" cy="990.7" r="3.6"/><circle cx="1269" cy="999.1" r="3.6"/><circle cx="1269" cy="1007.6" r="3.6"/><circle cx="1269" cy="1016" r="3.6"/><circle cx="1269" cy="1024.4" r="3.6"/><circle cx="1269" cy="1032.8" r="3.6"/><circle cx="1269" cy="1041.2" r="3.6"/><circle cx="1269" cy="1049.7" r="3.6"/><circle cx="1269" cy="1058.1" r="3.6"/>
</g>
<g font-size="4.2" text-anchor="middle" font-weight="bold">
<text x="1269" y="941.7">R</text><text x="1269" y="950.1">P</text><text x="1269" y="958.5">N</text><text x="1269" y="967">M</text><text x="1269" y="975.4">L</text><text x="1269" y="983.8">K</text><text x="1269" y="992.2">J</text><text x="1269" y="1000.6">H</text><text x="1269" y="1009.1">G</text><text x="1269" y="1017.5">F</text><text x="1269" y="1025.9">E</text><text x="1269" y="1034.3">D</text><text x="1269" y="1042.7">C</text><text x="1269" y="1051.2">B</text><text x="1269" y="1059.6">A</text>
</g>
<g font-size="6">
<text x="1232.5" y="1035.3">80088</text><text x="1277.5" y="1035.3" font-size="5.5">80.12.29</text>
<text x="1232.5" y="1043.7">80068</text><text x="1277.5" y="1043.7" font-size="5.5">80.08.25</text>
<text x="1232.5" y="1052.1">79113</text><text x="1277.5" y="1052.1" font-size="5.5">79.11.02</text>
<text x="1232.5" y="1060.5">78133</text><text x="1277.5" y="1060.5" font-size="5.5">78.3.9</text>
<text x="1216" y="1034">4</text><text x="1216" y="1042.5">1</text><text x="1216" y="1051">3</text><text x="1216" y="1059.5">1</text>
</g>
<g font-size="2.8" font-weight="bold">
<text x="1233" y="1067.3">CHANGE NO</text><text x="1260" y="1067.3">LETT</text><text x="1284" y="1067.3">DATE</text>
<text x="1250" y="1073.8">REPLACEMENT FOR</text>
<text x="1340" y="942">GENERAL SPEC   ALLGEMEINE SPEZ   SPEC GENERALES   SPEC GENERALI</text>
<text x="1490" y="939.5">BLANK NO    ROHTEILNUMMER</text><text x="1482" y="943">NO PIECE BRUTE   NO PEZZO GREZZO</text>
<text x="1310" y="963.5">TREATMENT  BEHANDLUNG</text><text x="1310" y="967.5">TRAITEMENT  TRATTAMENTO</text>
<text x="1390" y="963.5">SURFACE PROTECTION  OBERFLÄCHENSCHUTZ</text><text x="1400" y="967.5">PROTECTION  PROTEZIONE</text>
<text x="1500" y="963.5">MATERIAL    WERKSTOFF</text><text x="1500" y="967.5">MATIERE    MATERIALE</text>
<text x="1322" y="992.5">DATE</text><text x="1372" y="992.5">SIGNATURE</text>
<text x="1350" y="997.5">DRAWN</text><text x="1357" y="1014">CHECKED</text><text x="1340" y="1031">STANDARDIZATION</text>
<text x="1307" y="1050">MASS</text><text x="1334" y="1050">SCALE</text><text x="1420" y="1050">IDENTIFICATION CODE</text><text x="1538" y="1050">SHEET</text>
<text x="1309" y="1074">SIZE</text><text x="1336" y="1074">T.I.</text>
<text x="1367" y="1074.5">CODE FOR FUNCTION</text><text x="1438" y="1074.5">CODE FOR SHAPE</text><text x="1502" y="1074.5">CODE FOR DOCUMENT</text>
</g>
<text x="1413" y="999.5" font-size="10" font-weight="bold" textLength="140" lengthAdjust="spacingAndGlyphs">WABCO WESTINGHOUSE</text>
<g font-size="9">
<text x="1412" y="1011.5" textLength="94" lengthAdjust="spacingAndGlyphs">MVR BRAKE VALVE</text>
<text x="1412" y="1020.5" textLength="99" lengthAdjust="spacingAndGlyphs">MVR BREMSVENTIL</text>
<text x="1412" y="1029.3" textLength="90.5" lengthAdjust="spacingAndGlyphs">RUBINETTO MVR</text>
<text x="1412" y="1037.7" textLength="71.5" lengthAdjust="spacingAndGlyphs">ROBINET MVR</text>
</g>
<g font-size="7.5">
<text x="1312" y="1008.5">78.09.27</text><text x="1362" y="1008.5">VIDEAU</text>
<text x="1313" y="1025">79.05.23</text><text x="1364" y="1025">VIDEAU</text>
<text x="1312" y="1042">78.09.27</text><text x="1359" y="1042">DNA 78133</text>
</g>
<path d="M1355,1000 V1008 M1358,1016 V1024 M1356,1033 V1041" stroke="#000" stroke-width="0.65"/>
<text x="1303" y="1065" font-size="9">07</text>
<text x="1332" y="1064" font-size="8.5">1:1</text>
<text x="1357" y="1067.5" font-size="16" textLength="87" lengthAdjust="spacingAndGlyphs">961 722 151 0</text>
<text x="1540" y="1066" font-size="12">/</text>
<text x="1304" y="1088" font-size="8">A1</text>
<text x="1330" y="1089" font-size="11">210</text>
<text x="1512" y="1089" font-size="8">605</text>
<text x="1370" y="1120" font-size="15" font-weight="bold">CUBOCIT</text>
<text x="1302" y="1106" font-size="4" font-weight="bold">100 mm</text>
</svg>
</body></html>
